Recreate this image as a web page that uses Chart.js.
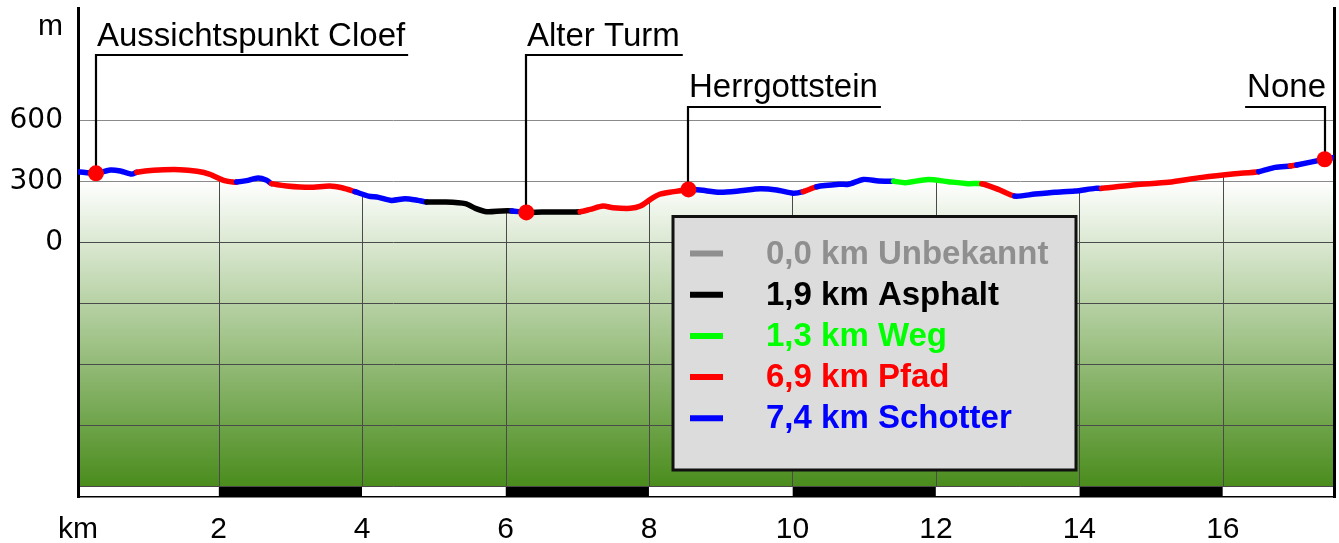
<!DOCTYPE html>
<html><head><meta charset="utf-8">
<script src="https://cdn.jsdelivr.net/npm/chart.js@4.4.1/dist/chart.umd.min.js"></script>
<style>html,body{margin:0;padding:0;background:#fff;}canvas{display:block;}</style>
</head><body>
<canvas id="c" width="1339" height="543"></canvas>
<script>
// ---- data ----
const distanceKm = [0.04,0.29,0.49,0.63,0.79,0.86,1.09,1.46,1.70,1.88,2.06,2.20,2.25,2.39,2.55,2.67,2.74,2.95,3.27,3.55,3.72,3.90,4.09,4.23,4.41,4.60,4.78,4.90,5.16,5.44,5.58,5.74,5.95,6.09,6.29,6.51,6.97,7.04,7.18,7.36,7.50,7.74,7.88,8.02,8.15,8.29,8.43,8.55,8.71,8.99,9.27,9.55,9.78,10.01,10.15,10.34,10.66,10.78,10.99,11.20,11.41,11.57,11.89,12.17,12.45,12.64,12.87,13.10,13.38,13.66,13.94,14.22,14.31,14.78,15.24,15.71,16.17,16.50,16.73,16.94,17.03,17.42,17.55];
const elevationM = [348,340,356,351,336,345,355,358,350,335,307,297,297,304,317,306,289,278,271,278,269,250,228,222,207,215,207,199,199,191,168,151,155,155,148,150,150,151,163,179,171,168,179,212,237,247,254,261,258,247,254,264,258,242,250,274,286,286,310,302,301,294,310,299,289,289,261,228,238,247,253,266,266,284,296,320,338,348,369,376,381,409,418];
// surface of the segment starting at each point: S=Schotter, P=Pfad, A=Asphalt, W=Weg
const surfaceCode = ['S','S','S','S','S','P','P','P','P','P','P','P','S','S','S','S','P','P','P','P','P','S','S','S','S','S','S','A','A','A','A','A','A','S','A','A','A','P','P','P','P','P','P','P','P','P','P','S','S','S','S','S','S','S','P','S','S','S','S','S','W','W','W','W','W','P','P','S','S','S','S','S','P','P','P','P','P','S','S','P','S','S','S'];
const waypointNames = ['Aussichtspunkt Cloef','Alter Turm','Herrgottstein','None'];
const waypointKm = [0.29,6.29,8.55,17.42];
const waypointElev = [340,148,261,409];
const surfaceNames = ['Unbekannt','Asphalt','Weg','Pfad','Schotter'];
const surfaceCodes = ['U','A','W','P','S'];
const surfaceLengthKm = ['0,0','1,9','1,3','6,9','7,4'];
const xTickKm = [2,4,6,8,10,12,14,16];
const yTickM = [-1200,-900,-600,-300,0,300,600];
const yLabelledM = [0,300,600];
const scaleBarBlackKm = [[2,4],[6,8],[10,12],[14,16]];

// ---- styles / layout ----
const X_MIN = 0.04, X_MAX = 17.55, Y_MIN = -1250, Y_MAX = 1152, Y_UNIT_TICK = 1060;
const surfaceColor = {U:'#8f8f8f', A:'#000000', W:'#00ff00', P:'#ff0000', S:'#0000ff'};
const SANS = "'Liberation Sans', Arial, sans-serif";
const profilePoints = distanceKm.map((k,i)=>({x:k, y:elevationM[i]}));

const datasets = [];
datasets.push({
  type:'line', label:'Wegpunkte', order:0,
  data: waypointKm.map((k,i)=>({x:k, y:waypointElev[i]})),
  showLine:false, pointRadius:8, pointBackgroundColor:'#ff0000', pointBorderWidth:0, fill:false
});
datasets.push({
  type:'line', label:'Profil', order:1,
  data: profilePoints,
  borderWidth:5.5, pointRadius:0, tension:0.25, borderCapStyle:'round', borderJoinStyle:'round',
  borderColor:'#0000ff',
  segment:{ borderColor: c => surfaceColor[surfaceCode[c.p0DataIndex]] },
  fill:false
});
datasets.push({
  type:'line', label:'Profilfläche', order:3,
  data: profilePoints,
  borderWidth:0, pointRadius:0, tension:0.25,
  fill:{value:-1200},
  backgroundColor: c => {
    const ch = c.chart;
    if (!ch.chartArea || !ch.scales.y) return 'rgba(0,0,0,0)';
    const t = ch.scales.y.getPixelForValue(300), b = ch.scales.y.getPixelForValue(-1200);
    const g = ch.ctx.createLinearGradient(0, t, 0, b);
    g.addColorStop(0,'#ffffff'); g.addColorStop(1,'#4a8c1c');
    return g;
  }
});
scaleBarBlackKm.forEach((blk,i)=>{
  datasets.push({
    type:'line', label:'scale'+i, order:2,
    data: blk.map(k=>({x:k, y:-1200})),
    borderWidth:0, pointRadius:0, fill:{value:Y_MIN}, backgroundColor:'#000000'
  });
});

const overlayPlugin = {
  id:'overlay',
  beforeDatasetsDraw(chart){
    const {ctx, scales:{x,y}} = chart;
    const meta = chart.getDatasetMeta(1);
    const pts = meta.data;
    const yb = y.getPixelForValue(-1200);
    // vertical grid lines only under the profile
    ctx.save();
    ctx.beginPath();
    ctx.moveTo(pts[0].x, yb);
    pts.forEach(p=>ctx.lineTo(p.x, p.y));
    ctx.lineTo(pts[pts.length-1].x, yb);
    ctx.closePath();
    ctx.clip();
    ctx.strokeStyle = '#4a4a4a'; ctx.lineWidth = 1;
    ctx.beginPath();
    xTickKm.forEach(k=>{ const px = Math.round(x.getPixelForValue(k))+0.5; ctx.moveTo(px, y.top); ctx.lineTo(px, yb); });
    ctx.stroke();
    ctx.restore();
    // waypoint labels
    const rows = [{line:55, base:46},{line:107, base:97}];
    const rowOf = [0,0,1,1];
    ctx.save();
    ctx.font = "33px " + SANS;
    ctx.fillStyle = '#000'; ctx.strokeStyle = '#000'; ctx.lineWidth = 2.2;
    ctx.textBaseline = 'alphabetic';
    waypointNames.forEach((name,i)=>{
      const px = Math.round(x.getPixelForValue(waypointKm[i]));
      const py = y.getPixelForValue(waypointElev[i]);
      const r = rows[rowOf[i]];
      const w = ctx.measureText(name).width;
      const right = px + 1 + w > chart.chartArea.right;
      ctx.beginPath();
      ctx.moveTo(px, py); ctx.lineTo(px, r.line);
      if (right) { ctx.lineTo(px - w - 1, r.line); } else { ctx.lineTo(px + w + 4, r.line); }
      ctx.stroke();
      if (right) { ctx.textAlign='right'; ctx.fillText(name, px + 1, r.base); }
      else { ctx.textAlign='left'; ctx.fillText(name, px + 1, r.base); }
    });
    ctx.restore();
  },
  afterDatasetsDraw(chart){
    const {ctx} = chart;
    ctx.save();
    ctx.fillStyle = '#dcdcdc';
    ctx.fillRect(673, 216.5, 403, 253.5);
    ctx.strokeStyle = '#111'; ctx.lineWidth = 3;
    ctx.strokeRect(673, 216.5, 403, 253.5);
    ctx.font = "bold 33px " + SANS;
    ctx.textBaseline = 'middle'; ctx.textAlign = 'left';
    surfaceNames.forEach((n,i)=>{
      const cy = 253.5 + i*41.2;
      const col = surfaceColor[surfaceCodes[i]];
      ctx.strokeStyle = col; ctx.lineWidth = 6;
      ctx.beginPath(); ctx.moveTo(690, cy); ctx.lineTo(723, cy); ctx.stroke();
      ctx.fillStyle = col;
      ctx.fillText(surfaceLengthKm[i] + ' km ' + n, 766, cy + 1);
    });
    ctx.restore();
  }
};

new Chart(document.getElementById('c'), {
  data:{ datasets },
  options:{
    responsive:false, animation:false, events:[],
    layout:{ padding:{top:8, left:0, right:0, bottom:0}, autoPadding:false },
    plugins:{ legend:{display:false}, tooltip:{enabled:false}, filler:{drawTime:'beforeDraw'} },
    scales:{
      x:{
        type:'linear', min:X_MIN, max:X_MAX, position:'bottom',
        afterBuildTicks: s => { s.ticks = [X_MIN, ...xTickKm].map(v=>({value:v})); },
        afterFit: s => { s.height = 46; s.paddingLeft = 0; s.paddingRight = 0; },
        grid:{ display:false, drawTicks:false },
        border:{ display:true, color:'#000', width:1.5 },
        ticks:{ autoSkip:false, maxRotation:0, padding:15, color:'#000',
          font:{ family:SANS, size:30 },
          callback: v => v === X_MIN ? 'km' : String(v) }
      },
      y:{
        type:'linear', min:Y_MIN, max:Y_MAX, position:'left',
        afterBuildTicks: s => { s.ticks = [...yTickM, Y_UNIT_TICK].map(v=>({value:v})); },
        afterFit: s => { s.width = 78; s.paddingTop = 0; s.paddingBottom = 0; },
        grid:{ drawTicks:false, lineWidth:1,
          color: c => c.tick.value === Y_UNIT_TICK ? 'rgba(0,0,0,0)' : (c.tick.value >= 300 ? '#8a8a8a' : '#4a4a4a') },
        border:{ display:true, color:'#000', width:3 },
        ticks:{ autoSkip:false, padding:15, color:'#000',
          font: c => (c.tick && c.tick.value === Y_UNIT_TICK) ? {family:SANS, size:30} : {family:"'DejaVu Sans', sans-serif", size:28},
          callback: v => v === Y_UNIT_TICK ? 'm' : (yLabelledM.includes(v) ? String(v) : '') }
      },
      y2:{
        type:'linear', min:Y_MIN, max:Y_MAX, position:'right',
        afterFit: s => { s.width = 5; s.paddingTop = 0; s.paddingBottom = 0; },
        grid:{ display:false, drawTicks:false },
        border:{ display:true, color:'#000', width:3 },
        ticks:{ display:false }
      }
    }
  },
  plugins:[overlayPlugin]
});
</script>
</body></html>
